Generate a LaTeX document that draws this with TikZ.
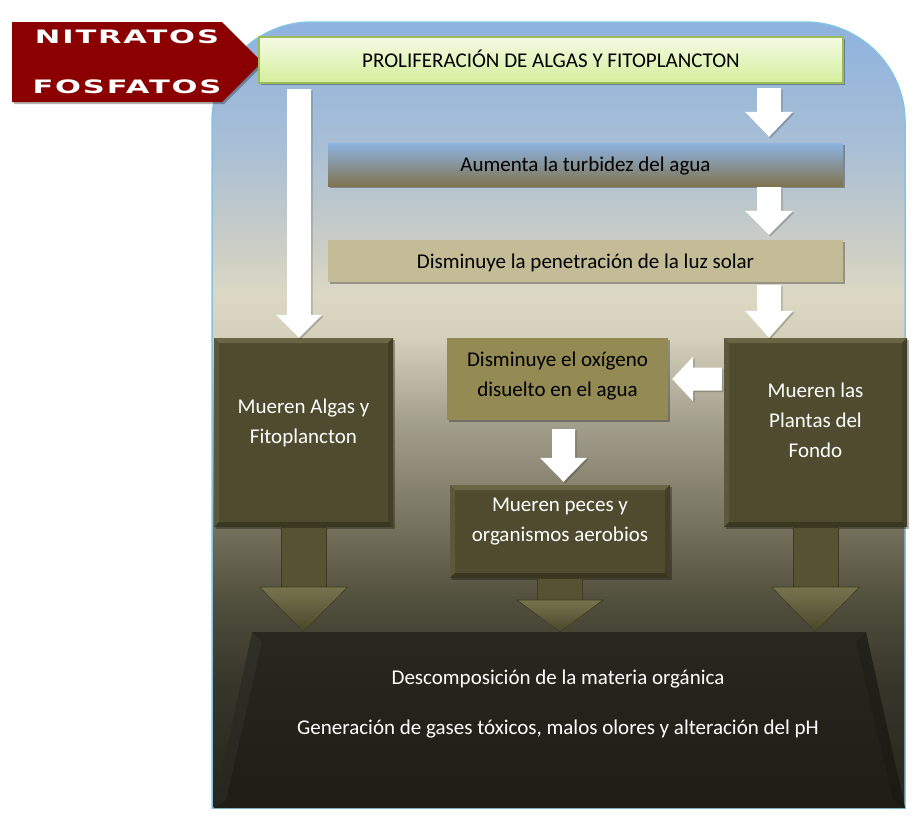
\documentclass[tikz,border=0pt]{standalone}
\usepackage{fontspec}
\setmainfont{Carlito}
\newfontfamily\widefont{DejaVu Sans}[LetterSpace=6]
\usetikzlibrary{calc,shadows}
\definecolor{bg0}{HTML}{8EB2DF}
\definecolor{bg1}{HTML}{A9BFD5}
\definecolor{bg2}{HTML}{C9CDC6}
\definecolor{bg3}{HTML}{DCD8C4}
\definecolor{bg4}{HTML}{D3CFBA}
\definecolor{bg5}{HTML}{A4A08E}
\definecolor{bg6}{HTML}{77745F}
\definecolor{bg7}{HTML}{504E3C}
\definecolor{bg8}{HTML}{37362A}
\definecolor{bg9}{HTML}{26251C}
\definecolor{bgborder}{HTML}{85C3E0}
\definecolor{nitro}{HTML}{8B0000}
\definecolor{green1}{HTML}{F4FBE3}
\definecolor{green2}{HTML}{D5EE9C}
\definecolor{greenedge}{HTML}{9BBB59}
\definecolor{turb1}{HTML}{8DB3E2}
\definecolor{turb2}{HTML}{A9A68F}
\definecolor{turb3}{HTML}{7F7450}
\definecolor{tan1}{HTML}{C4BC96}
\definecolor{oxy1}{HTML}{948A54}
\definecolor{dark1}{HTML}{4F4B2F}
\definecolor{bevtop}{HTML}{6A6543}
\definecolor{bevleft}{HTML}{5C583A}
\definecolor{bevright}{HTML}{423F26}
\definecolor{bevbot}{HTML}{3A3721}
\definecolor{oshaftc}{HTML}{565232}
\definecolor{ohead1}{HTML}{78734E}
\definecolor{ohead2}{HTML}{4A462A}
\definecolor{oedge}{HTML}{3E3B22}
\definecolor{trap1}{HTML}{29281F}
\definecolor{trap2}{HTML}{1E1D16}
\pgfdeclareverticalshading{bgshade}{100bp}{color(0bp)=(bg9); color(25bp)=(bg9); color(33bp)=(bg8); color(38bp)=(bg7); color(43.3bp)=(bg6); color(49.7bp)=(bg5); color(54.8bp)=(bg4); color(57.5bp)=(bg3); color(61.1bp)=(bg2); color(66.9bp)=(bg1); color(75bp)=(bg0); color(100bp)=(bg0)}
\newcommand{\downblock}[6]{%
  \path[#1] let \p1=#2, \p2=#3 in
   (\x2-#4,\y1) -- (\x2+#4,\y1) -- (\x2+#4,\y2+#6) -- (\x2+#5,\y2+#6) -- (\x2,\y2)
   -- (\x2-#5,\y2+#6) -- (\x2-#4,\y2+#6) -- cycle;}
\newcommand{\leftblock}[6]{%
  \path[#1] let \p1=#2, \p2=#3 in
   (\x1,\y2-#4) -- (\x1,\y2+#4) -- (\x2+#6,\y2+#4) -- (\x2+#6,\y2+#5) -- (\x2,\y2)
   -- (\x2+#6,\y2-#5) -- (\x2+#6,\y2-#4) -- cycle;}
\newcommand{\olivearrow}[4]{%
  \path[oshaft] let \p1=#1, \p2=#2 in (\x2-22.5pt,\y1) rectangle (\x2+22.5pt,\y2+#3);
  \path[ohead] let \p1=#1, \p2=#2 in (\x2-#4,\y2+#3) -- (\x2+#4,\y2+#3) -- (\x2,\y2) -- cycle;}
\begin{document}
\begin{tikzpicture}[x=1pt,y=-1pt,
  txt/.style={font=\fontsize{21}{30}\selectfont, align=center, inner sep=0pt, text=black},
  wtxt/.style={txt, text=white},
  one/.style={text height=14pt, text depth=0pt},
  shad/.style={drop shadow={opacity=0.3, shadow xshift=2pt, shadow yshift=-2pt, fill=black}},
  greenbox/.style={draw=greenedge, line width=2pt, top color=green1, bottom color=green2, shad, inner sep=0pt},
  turbbox/.style={top color=turb1, middle color=turb2, bottom color=turb3, shad, inner sep=0pt},
  tanbox/.style={fill=tan1, shad, inner sep=0pt},
  oxybox/.style={fill=oxy1, shad, inner sep=0pt},
  bevel/.style={path picture={
    \path (path picture bounding box.north west) coordinate (bNW)
          (path picture bounding box.north east) coordinate (bNE)
          (path picture bounding box.south west) coordinate (bSW)
          (path picture bounding box.south east) coordinate (bSE);
    \fill[bevtop] (bNW) -- (bNE) -- ($(bNE)+(-5pt,-5pt)$) -- ($(bNW)+(5pt,-5pt)$) -- cycle;
    \fill[bevleft] (bNW) -- ($(bNW)+(5pt,-5pt)$) -- ($(bSW)+(5pt,5pt)$) -- (bSW) -- cycle;
    \fill[bevright] (bNE) -- ($(bNE)+(-5pt,-5pt)$) -- ($(bSE)+(-5pt,5pt)$) -- (bSE) -- cycle;
    \fill[bevbot] (bSW) -- ($(bSW)+(5pt,5pt)$) -- ($(bSE)+(-5pt,5pt)$) -- (bSE) -- cycle;
  }},
  darkbox/.style={fill=dark1, shad, bevel, inner sep=0pt},
  warrow/.style={fill=white, drop shadow={opacity=0.2, shadow xshift=1.5pt, shadow yshift=-1.5pt, fill=black}},
  oshaft/.style={fill=oshaftc, draw=oedge, line width=0.6pt},
  ohead/.style={top color=ohead1, bottom color=ohead2, draw=oedge, line width=0.6pt},
  nutr/.style={font=\widefont\bfseries\fontsize{18.5}{20}\selectfont, text=white, inner sep=0pt},
  trapfill/.style={top color=trap1, bottom color=trap2}
]
\useasboundingbox (0,0) rectangle (919,823);

% background water body
\shadedraw[shading=bgshade, draw=bgborder, line width=1.5pt]
  (212,808) -- (212,122) .. controls (212,66.8) and (256.8,22) .. (312,22)
  -- (805,22) .. controls (860.2,22) and (905,66.8) .. (905,122) -- (905,808) -- cycle;

% nutrient arrow
\fill[nitro, shad] (12,22) -- (222,22) -- (262,62) -- (222,102) -- (12,102) -- cycle;
\node[nutr] (nit) at (127,37) {\scalebox{1.65}[1]{NITRATOS}};
\node[nutr] (fos) at (127,86.5) {\scalebox{1.65}[1]{FOSFATOS}};

% boxes
\node[greenbox, txt, one, minimum width=584pt, minimum height=46pt] (prolif) at (551,60)
  {PROLIFERACIÓN DE ALGAS Y FITOPLANCTON};
\node[turbbox, txt, one, minimum width=515pt, minimum height=43pt] (turb) at (585.5,164.5)
  {Aumenta la turbidez del agua};
\node[tanbox, txt, one, minimum width=515pt, minimum height=42pt] (luz) at (585.5,261)
  {Disminuye la penetración de la luz solar};

\node[darkbox, minimum width=179pt, minimum height=189pt] (algas) at (303.5,432.5) {};
\node[wtxt] (algasT) at (303.5,422.7) {Mueren Algas y\\Fitoplancton};

\node[darkbox, minimum width=183pt, minimum height=189pt] (plantas) at (815.5,432.5) {};
\node[wtxt] (plantasT) at (815.5,420.7) {Mueren las\\Plantas del\\Fondo};

\node[oxybox, minimum width=221pt, minimum height=82pt] (oxy) at (557.5,379) {};
\node[txt] (oxyT) at (557.5,376.2) {Disminuye el oxígeno\\disuelto en el agua};

\node[darkbox, minimum width=220pt, minimum height=93pt] (peces) at (560,531.5) {};
\node[wtxt] (pecesT) at (560,522) {Mueren peces y\\organismos aerobios};

% bottom trapezoid
\path[trapfill] (252,632) -- (866,632) -- (905,808) -- (214,808) -- cycle;
\fill[white, opacity=0.04] (252,632) -- (262,642) -- (226,800) -- (214,808) -- cycle;
\fill[black, opacity=0.12] (866,632) -- (856,642) -- (893,800) -- (905,808) -- cycle;
\coordinate (trapTop) at (558,632);
\node[wtxt, one] (decomp) at (558,677) {Descomposición de la materia orgánica};
\node[wtxt, one] (gases) at (558,727) {Generación de gases tóxicos, malos olores y alteración del pH};

% white block arrows
\coordinate (wl) at (299,89);
\downblock{warrow}{(wl)}{(wl |- algas.north)}{12pt}{23pt}{23pt}
\coordinate (wr1) at (769,88);
\downblock{warrow}{(wr1)}{($(wr1 |- turb.north)+(0,-6)$)}{12pt}{24pt}{25pt}
\coordinate (wr2) at (769,187);
\downblock{warrow}{(wr2)}{($(wr2 |- luz.north)+(0,-5)$)}{12pt}{24pt}{24pt}
\coordinate (wr3) at (769,285);
\downblock{warrow}{(wr3)}{(wr3 |- plantas.north)}{12pt}{24pt}{27pt}
\coordinate (wp) at (563.5,429);
\downblock{warrow}{(wp)}{($(wp |- peces.north)+(0,-3)$)}{11.5pt}{23.5pt}{24pt}
\leftblock{warrow}{($(plantas.west |- oxy.east)+(-2,0)$)}{($(oxy.east)+(4,0)$)}{11.5pt}{22.5pt}{21pt}

% olive block arrows
\olivearrow{(algas.south)}{(algas.south |- trapTop)}{45pt}{44pt}
\olivearrow{(peces.south)}{(peces.south |- trapTop)}{32pt}{43pt}
\olivearrow{(plantas.south)}{(plantas.south |- trapTop)}{45pt}{44pt}
\end{tikzpicture}
\end{document}
